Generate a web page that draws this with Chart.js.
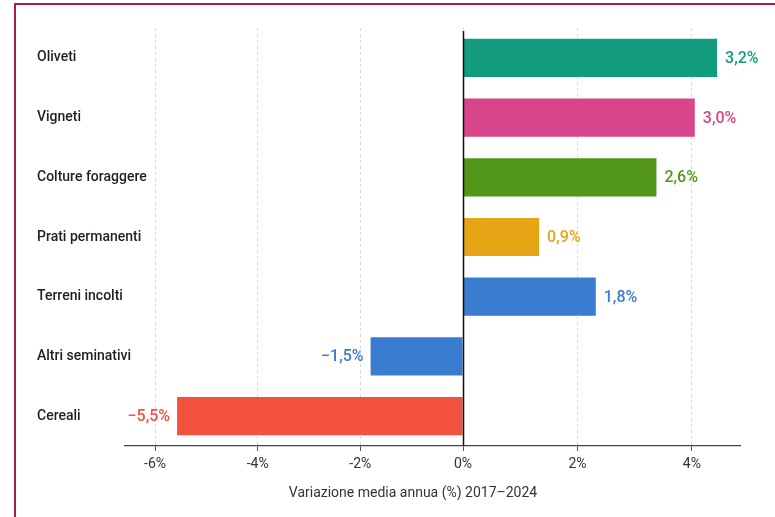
<!DOCTYPE html>
<html>
<head>
<meta charset="utf-8">
<script src="https://cdn.jsdelivr.net/npm/chart.js@4.4.1/dist/chart.umd.min.js"></script>
<style>
  html, body { margin: 0; padding: 0; background: #fff; }
  .frame {
    position: absolute; left: 14px; top: 3px; width: 900px; height: 600px;
    border-left: 2px solid #a81c5c; border-top: 2px solid #a81c5c;
  }
  canvas { position: absolute; left: 0; top: 0; }
</style>
</head>
<body>
<div class="frame"></div>
<canvas id="landUseChart" width="775" height="517"></canvas>
<script>
// Data
const categories = ['Oliveti', 'Vigneti', 'Colture foraggere', 'Prati permanenti', 'Terreni incolti', 'Altri seminativi', 'Cereali'];
// bar lengths as drawn against the axis
const barValues = [4.44, 4.05, 3.38, 1.33, 2.32, -1.80, -5.57];
// numbers printed next to the bars
const shownValues = [3.2, 3.0, 2.6, 0.9, 1.8, -1.5, -5.5];
const barColors = ['#129b7d', '#d8458a', '#52961a', '#e6a514', '#3a7ccf', '#3a7ccf', '#f4513f'];
const tickValues = [-6, -4, -2, 0, 2, 4];
const axisTitle = 'Variazione media annua (%) 2017–2024';

// The axis in the picture is stretched more on the positive side,
// so use a linear scale with a different unit width either side of zero
class SplitScale extends Chart.LinearScale {
    toDecimal(v) {
        const z = this.options.zeroAt;
        return v < 0 ? z * (v - this.min) / (0 - this.min) : z + (1 - z) * v / this.max;
    }
    getPixelForValue(value) {
        if (value === null || isNaN(value)) return NaN;
        return this.getPixelForDecimal(this.toDecimal(value));
    }
    getValueForPixel(pixel) {
        const d = this.getDecimalForPixel(pixel);
        const z = this.options.zeroAt;
        return d < z ? this.min - this.min * d / z : (d - z) / (1 - z) * this.max;
    }
}
SplitScale.id = 'split';
SplitScale.defaults = Chart.LinearScale.defaults;
Chart.register(SplitScale);

const fmt = v => (v < 0 ? '\u2212' : '') + Math.abs(v).toFixed(1).replace('.', ',') + '%';

const extras = {
    id: 'extras',
    afterDatasetsDraw(chart) {
        const { ctx, chartArea } = chart;
        const x = chart.scales.x;
        const meta = chart.getDatasetMeta(0);

        // zero line
        const zx = Math.round(x.getPixelForValue(0)) + 0.5;
        ctx.save();
        ctx.strokeStyle = '#111';
        ctx.lineWidth = 1.5;
        ctx.beginPath();
        ctx.moveTo(zx, chartArea.top + 3);
        ctx.lineTo(zx, chartArea.bottom);
        ctx.stroke();

        // value labels
        ctx.font = '500 16px Roboto';
        ctx.textBaseline = 'middle';
        meta.data.forEach((bar, i) => {
            const neg = shownValues[i] < 0;
            ctx.fillStyle = barColors[i];
            ctx.textAlign = neg ? 'right' : 'left';
            ctx.fillText(fmt(shownValues[i]), bar.x + (neg ? -7 : 8), bar.y + 1);
        });

        // axis caption
        ctx.font = '14px Roboto';
        ctx.fillStyle = '#333';
        ctx.textAlign = 'center';
        ctx.fillText(axisTitle, 413, 493);
        ctx.restore();
    }
};

const ctx = document.getElementById('landUseChart').getContext('2d');

const landUseChart = new Chart(ctx, {
    type: 'bar',
    data: {
        labels: categories,
        datasets: [{
            data: barValues,
            backgroundColor: barColors,
            borderWidth: 0,
            barPercentage: 0.64,
            categoryPercentage: 1
        }]
    },
    options: {
        indexAxis: 'y',
        responsive: false,
        animation: false,
        layout: {
            padding: { left: 37, right: 35, top: 28, bottom: 0 }
        },
        plugins: {
            legend: { display: false },
            tooltip: { enabled: false }
        },
        scales: {
            x: {
                type: 'split',
                min: -6.585,
                max: 4.84,
                zeroAt: 0.5496,
                afterBuildTicks: scale => {
                    scale.ticks = tickValues.map(v => ({ value: v }));
                },
                afterFit: scale => {
                    scale.height = 71;
                },
                grid: {
                    color: '#d9d9d9',
                    lineWidth: 1,
                    drawTicks: true,
                    tickLength: 5,
                    tickColor: '#555',
                    tickWidth: 1
                },
                border: {
                    display: true,
                    color: '#444',
                    width: 1.3,
                    dash: [3, 3]
                },
                ticks: {
                    padding: 5,
                    color: '#333',
                    font: { family: 'Roboto', size: 14 },
                    callback: v => v + '%'
                }
            },
            y: {
                afterFit: scale => {
                    scale.width = 88;
                },
                grid: { display: false },
                border: { display: false },
                ticks: {
                    // mirrored labels are not clipped, so they can run into the plot like in the picture
                    mirror: true,
                    crossAlign: 'near',
                    padding: -88,
                    color: '#1e1e28',
                    font: { family: 'Roboto', size: 14, weight: '500' }
                }
            }
        }
    },
    plugins: [extras]
});
</script>
</body>
</html>
